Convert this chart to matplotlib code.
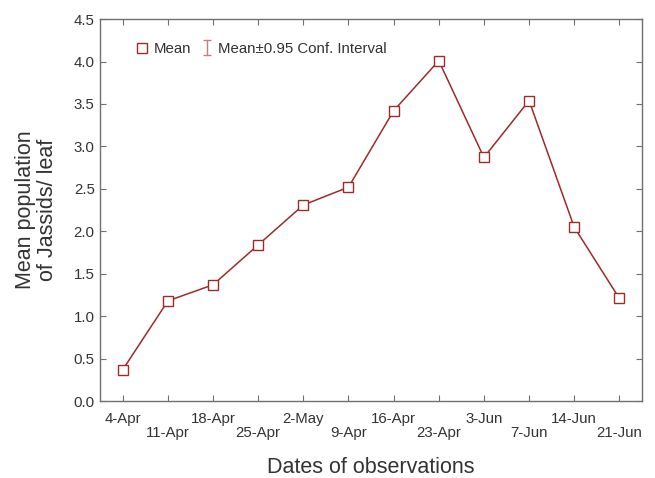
import numpy as np
import matplotlib
matplotlib.use("Agg")
import matplotlib.pyplot as plt
from matplotlib.lines import Line2D

# observation dates and mean jassid counts per leaf
dates = ["4-Apr", "11-Apr", "18-Apr", "25-Apr", "2-May", "9-Apr",
         "16-Apr", "23-Apr", "3-Jun", "7-Jun", "14-Jun", "21-Jun"]
means = [0.37, 1.18, 1.37, 1.84, 2.31, 2.52, 3.42, 4.01, 2.87, 3.54, 2.05, 1.21]

plt.rcParams['font.family'] = ['Liberation Sans', 'DejaVu Sans']

line_col = "#9e2a2a"
text_col = "#333333"
spine_col = "#707070"

fig = plt.figure(figsize=(6.55, 4.78), dpi=100)
ax = fig.add_axes([0.153, 0.161, 0.827, 0.799])

x = np.arange(len(dates))
ax.plot(x, means, color=line_col, lw=1.1, marker='s', markersize=7,
        markerfacecolor='white', markeredgecolor=line_col, markeredgewidth=1.0)

ax.set_xlim(-0.5, len(dates) - 0.5)
ax.set_ylim(0, 4.5)
ax.set_yticks(np.arange(0, 4.51, 0.5))
ax.set_yticklabels([f"{v:.1f}" for v in np.arange(0, 4.51, 0.5)])

# alternate the date labels on two rows
labels = [d if i % 2 == 0 else "\n" + d for i, d in enumerate(dates)]
ax.set_xticks(x)
ax.set_xticklabels(labels, linespacing=1.0)

ax.tick_params(direction='in', length=4, width=0.8, color=spine_col,
               labelsize=10.8, labelcolor=text_col, top=True, right=True)
ax.tick_params(axis='x', pad=8)
ax.tick_params(axis='y', pad=4)
for s in ax.spines.values():
    s.set_color(spine_col)
    s.set_linewidth(1.0)

ax.set_xlabel("Dates of observations", fontsize=15.5, color=text_col, labelpad=12)
ax.set_ylabel("Mean population\nof Jassids/ leaf", fontsize=15.5, color=text_col,
              linespacing=1.1, labelpad=11)

# legend: mean marker and confidence interval symbol
mean_h = Line2D([], [], linestyle='none', marker='s', markersize=7,
                markerfacecolor='white', markeredgecolor=line_col)
ci_h = ax.errorbar([np.nan], [np.nan], yerr=[[0.1]], fmt='none',
                   ecolor="#c08080", elinewidth=1, capsize=3)
leg = ax.legend([mean_h, ci_h], ["Mean", "Mean\u00b10.95 Conf. Interval"],
                loc='upper left', bbox_to_anchor=(0.04, 0.975), ncol=2,
                frameon=False, fontsize=10.8, handlelength=0.9,
                handletextpad=0.3, columnspacing=0.6)
for t in leg.get_texts():
    t.set_color(text_col)

fig.savefig("out.png", dpi=100)
